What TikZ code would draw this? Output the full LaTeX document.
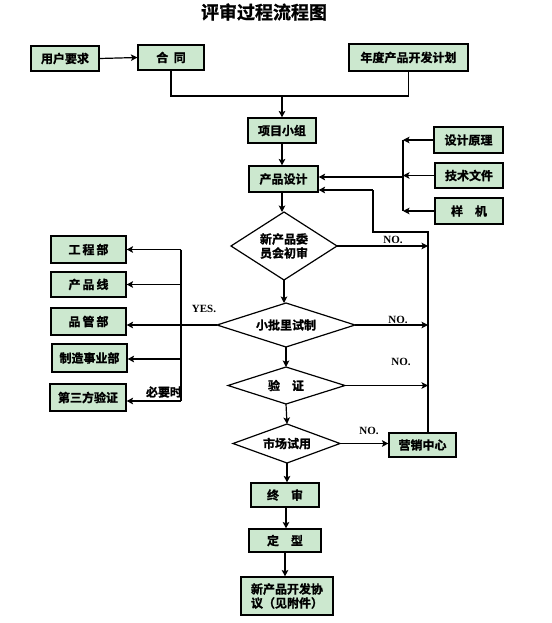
\documentclass[tikz,border=0pt]{standalone}
\usepackage{fontspec}
\newfontfamily\cjk{Noto Sans CJK SC}[BoldFont={* Bold},BoldFeatures={FakeBold=1.2}]
\newfontfamily\lat{Liberation Serif}
\usetikzlibrary{arrows.meta}
\definecolor{boxgreen}{RGB}{204,232,207}
\begin{document}
\begin{tikzpicture}[x=1pt,y=-1pt,
  box/.style={draw=black,line width=1.1pt,fill=boxgreen,inner sep=0pt,font=\cjk\bfseries\fontsize{12}{14}\selectfont},
  dtext/.style={font=\cjk\bfseries\fontsize{12}{14}\selectfont,inner sep=0pt},
  lbl/.style={font=\lat\bfseries\fontsize{11}{12}\selectfont,inner sep=0pt},
  ln/.style={line width=1.2pt},
  arr/.style={line width=1.2pt,-{Stealth[length=6.5pt,width=6.5pt,inset=1.5pt]}}]
\useasboundingbox (0,0) rectangle (551,623);
% title
\node[font=\cjk\bfseries\fontsize{18}{20}\selectfont,inner sep=0pt] (title) at (264,12) {评审过程流程图};
% top row
\node[box,minimum width=68pt,minimum height=25pt] (yh) at (65,58.5) {用户要求};
\node[box,minimum width=66pt,minimum height=25pt] (ht) at (171,57.5) {合\ \ 同};
\node[box,minimum width=119pt,minimum height=27pt] (nd) at (408.5,57.5) {年度产品开发计划};
\node[box,minimum width=68pt,minimum height=25pt] (xm) at (282,130.5) {项目小组};
\node[box,minimum width=69pt,minimum height=26pt] (cp) at (283.5,179) {产品设计};
\node[box,minimum width=69pt,minimum height=26pt] (sj) at (468.5,140) {设计原理};
\node[box,minimum width=68pt,minimum height=25pt] (js) at (469,175.5) {技术文件};
\node[box,minimum width=68pt,minimum height=26pt] (yj) at (469,211) {样\quad 机};
% diamonds
\coordinate (d1L) at (231,246); \coordinate (d1R) at (337,246);
\coordinate (d1T) at (284,212); \coordinate (d1B) at (284,280);
\draw[ln,fill=white] (d1L) -- (d1T) -- (d1R) -- (d1B) -- cycle;
\node[dtext,align=center] (d1t) at (284,246) {新产品委\\员会初审};
\coordinate (d2L) at (217,325); \coordinate (d2R) at (355,325);
\coordinate (d2T) at (286,303); \coordinate (d2B) at (286,347);
\draw[ln,fill=white] (d2L) -- (d2T) -- (d2R) -- (d2B) -- cycle;
\node[dtext] (d2t) at (286,325) {小批里试制};
\coordinate (d3L) at (228,385.5); \coordinate (d3R) at (345,385.5);
\coordinate (d3T) at (286,367); \coordinate (d3B) at (286,404);
\draw[ln,fill=white] (d3L) -- (d3T) -- (d3R) -- (d3B) -- cycle;
\node[dtext] (d3t) at (286,385.5) {验\quad 证};
\coordinate (d4L) at (233,443.5); \coordinate (d4R) at (340,443.5);
\coordinate (d4T) at (287,424); \coordinate (d4B) at (287,463);
\draw[ln,fill=white] (d4L) -- (d4T) -- (d4R) -- (d4B) -- cycle;
\node[dtext] (d4t) at (287,443.5) {市场试用};
% left boxes
\node[box,minimum width=75pt,minimum height=27pt] (gc) at (88.5,249.5) {工\,程\,部};
\node[box,minimum width=75pt,minimum height=25pt] (cpx) at (88.5,284.5) {产\,品\,线};
\node[box,minimum width=75pt,minimum height=27pt] (pg) at (88.5,321.5) {品\,管\,部};
\node[box,minimum width=75pt,minimum height=28pt] (zz) at (89.5,358) {制造事业部};
\node[box,minimum width=76pt,minimum height=27pt] (dsf) at (88,397.5) {第三方验证};
% right / bottom boxes
\node[box,minimum width=67pt,minimum height=24pt] (yx) at (422.5,445) {营销中心};
\node[box,minimum width=68pt,minimum height=24pt] (zs) at (285,495) {终\quad 审};
\node[box,minimum width=72pt,minimum height=23pt] (dx) at (285,540.5) {定\quad 型};
\node[box,minimum width=92pt,minimum height=38pt,align=left] (xy) at (287,596) {新产品开发协\\议（见附件）};
% top connectors
\draw[arr] (yh.east) -- (ht.west);
\coordinate (j1) at (282,96);
\draw[ln] (ht.south) |- (j1) -| (nd.south);
\draw[arr] (j1) -- (xm.north);
\draw[arr] (xm.south) -- (xm.south |- cp.north);
% right inputs
\coordinate (vt) at (403,140); \coordinate (vb) at (403,211);
\draw[ln] (vt) -- (vb);
\draw[arr] (sj.west) -- (vt);
\draw[arr] (js.west) -- (403,175.5);
\draw[arr] (yj.west) -- (vb);
\draw[arr] (403,177) -- (cp.east |- 0,177);
% feedback loop
\coordinate (fb1) at (428,232); \coordinate (fb2) at (373,232);
\coordinate (fb3) at (373,190);
\draw[ln] (yx.north -| fb1) -- (fb1) -- (fb2) -- (fb3);
\draw[arr] (fb3) -- (cp.east |- fb3);
% main flow
\draw[arr] (cp.south -| 282,0) -- (282,212);
\draw[arr] (d1B) -- (284,303);
\draw[arr] (d2B) -- (d3T);
\draw[arr] (d3B) -- (d4T);
\draw[arr] (d4B) -- (zs.north -| d4B);
\draw[arr] (zs.south -| 286,0) -- (dx.north -| 286,0);
\draw[arr] (dx.south -| 285,0) -- (xy.north -| 285,0);
% NO arrows
\draw[arr] (d1R) -- (428,246);
\draw[arr] (d2R) -- (428,325);
\draw[arr] (d3R) -- (428,385.5);
\draw[arr] (d4R) -- (yx.west |- d4R);
\node[lbl] (no1) at (393,240) {NO.};
\node[lbl] (no2) at (398,320) {NO.};
\node[lbl] (no3) at (401,362) {NO.};
\node[lbl] (no4) at (369,431) {NO.};
% YES branch
\draw[arr] (d2L) -- (pg.east |- d2L);
\draw[ln] (181,249.5) -- (181,401);
\draw[arr] (181,249.5) -- (gc.east);
\draw[arr] (181,284.5) -- (cpx.east);
\draw[arr] (181,359) -- (zz.east |- 0,359);
\draw[arr] (181,401) -- (dsf.east |- 0,401);
\node[lbl] (yes) at (204,309) {YES.};
\node[dtext] (byb) at (164,392) {必要时};
\end{tikzpicture}
\end{document}
